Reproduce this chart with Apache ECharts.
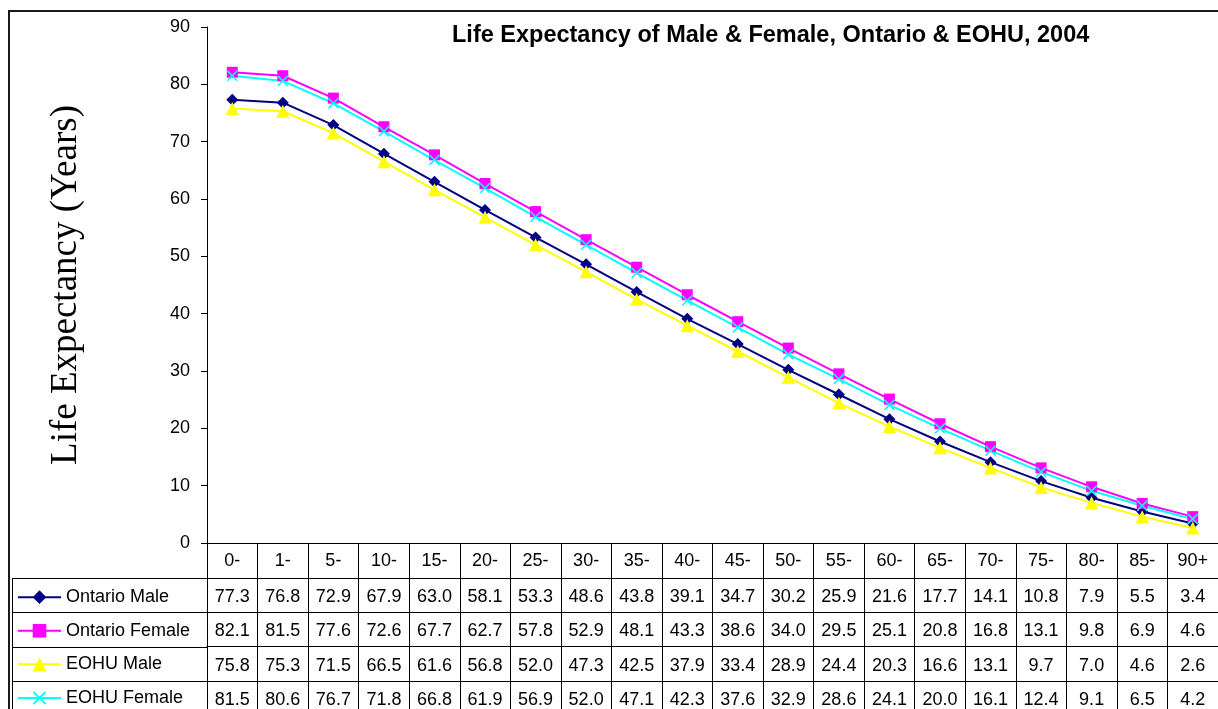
<!DOCTYPE html>
<html><head><meta charset="utf-8">
<script src="https://cdn.jsdelivr.net/npm/echarts@6/dist/echarts.min.js"></script>
<style>html,body{margin:0;padding:0;background:#fff}#c{width:1218px;height:709px}</style>
</head><body><div id="c"></div>
<script>
// ---- data ----
const categories = ['0-','1-','5-','10-','15-','20-','25-','30-','35-','40-','45-','50-','55-','60-','65-','70-','75-','80-','85-','90+'];
const ontarioMale   = [77.3,76.8,72.9,67.9,63.0,58.1,53.3,48.6,43.8,39.1,34.7,30.2,25.9,21.6,17.7,14.1,10.8,7.9,5.5,3.4];
const ontarioFemale = [82.1,81.5,77.6,72.6,67.7,62.7,57.8,52.9,48.1,43.3,38.6,34.0,29.5,25.1,20.8,16.8,13.1,9.8,6.9,4.6];
const eohuMale      = [75.8,75.3,71.5,66.5,61.6,56.8,52.0,47.3,42.5,37.9,33.4,28.9,24.4,20.3,16.6,13.1,9.7,7.0,4.6,2.6];
const eohuFemale    = [81.5,80.6,76.7,71.8,66.8,61.9,56.9,52.0,47.1,42.3,37.6,32.9,28.6,24.1,20.0,16.1,12.4,9.1,6.5,4.2];
const seriesNames = ['Ontario Male','Ontario Female','EOHU Male','EOHU Female'];
const yMin = 0, yMax = 90, yInterval = 10;

// ---- styling / layout ----
const SANS = 'Liberation Sans, Arial, sans-serif';
const SERIF = 'Liberation Serif, Times New Roman, serif';
const colors = ['#000080','#FF00FF','#FFFF00','#00FFFF'];
const symbols = ['diamond','rect','triangle','path://M0,1L1,0L5,4L9,0L10,1L6,5L10,9L9,10L5,6L1,10L0,9L4,5Z'];
const symbolSizes = [12,11,13,11];
const allValues = [ontarioMale, ontarioFemale, eohuMale, eohuFemale];

const GRID_LEFT = 207, GRID_TOP = 27, GRID_W = 1021, GRID_H = 516;
const CAT_ROW = 35, ROW = 34.3;
const tableTop = GRID_TOP + GRID_H + CAT_ROW;
const TXT_H = 18.7;

const xAxes = [{
  type: 'category', data: categories, gridIndex: 0, position: 'bottom', boundaryGap: true,
  axisLine: { show: true, lineStyle: { color: '#000', width: 1 } },
  axisTick: { show: true, interval: 0, length: CAT_ROW, lineStyle: { color: '#000' } },
  axisLabel: { interval: 0, fontSize: 18, color: '#000', fontFamily: SANS, margin: 9 },
  splitLine: { show: false }
}];
allValues.forEach((vals, i) => {
  xAxes.push({
    type: 'category', data: vals.map(v => v.toFixed(1)), gridIndex: 0, position: 'bottom',
    offset: CAT_ROW + ROW * i, boundaryGap: true,
    axisLine: { show: true, lineStyle: { color: '#000', width: 1 } },
    axisTick: { show: true, interval: 0, length: ROW, lineStyle: { color: '#000' } },
    axisLabel: { interval: 0, fontSize: 18, color: '#000', fontFamily: SANS, margin: 10 },
    splitLine: { show: false }
  });
});

const graphics = [
  { type: 'rect', silent: true, shape: { x: 9, y: 11, width: 1300, height: 800 },
    style: { fill: 'none', stroke: '#1a1a1a', lineWidth: 2 } },
  { type: 'line', silent: true, shape: { x1: 12.5, y1: tableTop, x2: 12.5, y2: 720 },
    style: { stroke: '#000', lineWidth: 1 } }
];
for (let i = 0; i < seriesNames.length; i++) {
  const y = Math.round(tableTop + ROW * i) + 0.5;
  graphics.push({ type: 'line', silent: true, shape: { x1: 12, y1: y, x2: GRID_LEFT, y2: y },
    style: { stroke: '#000', lineWidth: 1 } });
}

const option = {
  animation: false,
  backgroundColor: '#fff',
  title: {
    text: 'Life Expectancy of Male & Female, Ontario & EOHU, 2004',
    left: 452, top: 24, padding: 0,
    textStyle: { fontSize: 23.5, fontWeight: 'bold', fontFamily: SANS, color: '#000' }
  },
  legend: {
    orient: 'vertical', left: 17, top: tableTop + 19.5 - TXT_H / 2, height: 200, width: 190, padding: 0,
    itemWidth: 43, itemHeight: 17, itemGap: ROW - TXT_H, selectedMode: false,
    textStyle: { fontSize: 18, color: '#000', fontFamily: SANS },
    data: seriesNames
  },
  grid: { left: GRID_LEFT, top: GRID_TOP, width: GRID_W, height: GRID_H, containLabel: false },
  xAxis: xAxes,
  yAxis: {
    type: 'value', min: yMin, max: yMax, interval: yInterval,
    name: 'Life Expectancy (Years)', nameLocation: 'middle', nameGap: 122, nameRotate: 90,
    nameTextStyle: { fontFamily: SERIF, fontSize: 37, color: '#000' },
    axisLine: { show: true, lineStyle: { color: '#000', width: 1 } },
    axisTick: { show: true, length: 6, lineStyle: { color: '#000' } },
    axisLabel: { fontSize: 18, color: '#000', fontFamily: SANS, margin: 17 },
    splitLine: { show: false }
  },
  series: allValues.map((vals, i) => ({
    name: seriesNames[i], type: 'line', xAxisIndex: 0, yAxisIndex: 0,
    data: vals, symbol: symbols[i], symbolSize: symbolSizes[i], showSymbol: true,
    itemStyle: { color: colors[i] }, lineStyle: { color: colors[i], width: 2 }
  })),
  graphic: graphics
};
const chart = echarts.init(document.getElementById('c'), null, { renderer: 'canvas' });
chart.setOption(option);
</script></body></html>
